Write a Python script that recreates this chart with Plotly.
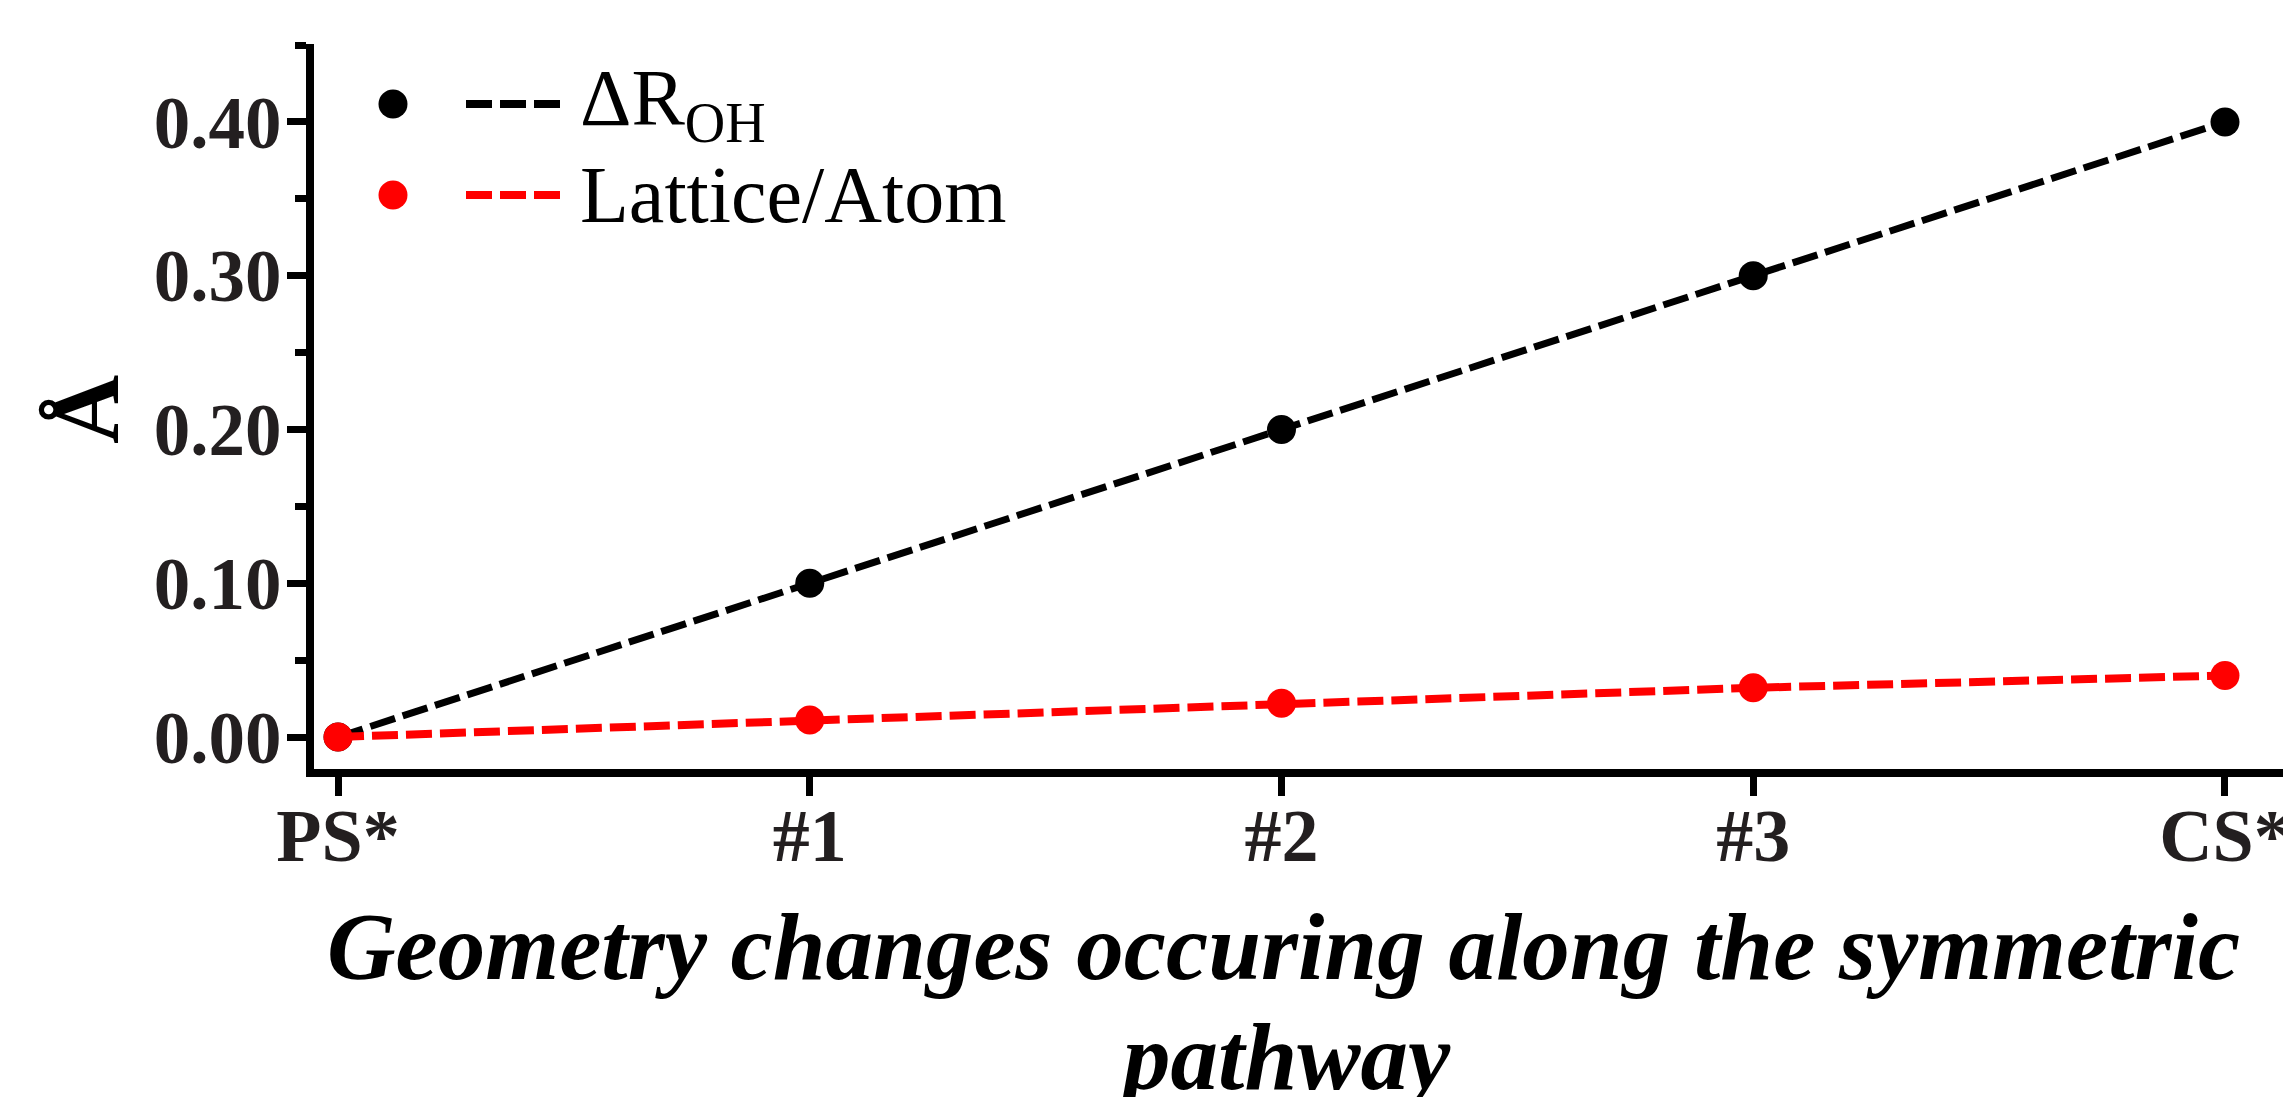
import plotly.graph_objects as go

categories = ["PS*", "#1", "#2", "#3", "CS*"]
x_pos = [0, 1, 2, 3, 4]
delta_roh = [0.0, 0.10, 0.20, 0.30, 0.40]
lattice_atom = [0.0, 0.011, 0.022, 0.032, 0.040]
y_ticks = [0.0, 0.1, 0.2, 0.3, 0.4]
y_tick_labels = ["0.00", "0.10", "0.20", "0.30", "0.40"]
series_names = ["ΔR<sub>OH</sub>", "Lattice/Atom"]
series_colors = ["#000000", "#ff0000"]

W, H = 2283, 1097
L, T, B, R = 314, 44, 328, 0
PW, PH = W - L - R, H - T - B

def px(xp):
    return (xp - L) / PW

def py(yp):
    return (H - B - yp) / PH

FONT = "Liberation Serif"
DASH = "26px,8px"
MSIZE = 29

fig = go.Figure()
fig.add_trace(go.Scatter(
    x=x_pos, y=delta_roh, mode="lines+markers", name=series_names[0],
    line=dict(color=series_colors[0], width=7, dash=DASH),
    marker=dict(color=series_colors[0], size=MSIZE), showlegend=False, cliponaxis=False))
fig.add_trace(go.Scatter(
    x=x_pos, y=lattice_atom, mode="lines+markers", name=series_names[1],
    line=dict(color=series_colors[1], width=8, dash=DASH),
    marker=dict(color=series_colors[1], size=MSIZE), showlegend=False, cliponaxis=False))

# custom legend (marker, dashed line, text)
legend_rows = [104, 195]
shapes = []
annotations = []
for i, yr in enumerate(legend_rows):
    r = MSIZE / 2
    shapes.append(dict(type="circle", xref="paper", yref="paper",
                       x0=px(393 - r), x1=px(393 + r), y0=py(yr + r), y1=py(yr - r),
                       fillcolor=series_colors[i], line=dict(width=0)))
    shapes.append(dict(type="line", xref="paper", yref="paper",
                       x0=px(466), x1=px(561), y0=py(yr), y1=py(yr),
                       line=dict(color=series_colors[i], width=8, dash=DASH)))
    annotations.append(dict(xref="paper", yref="paper", x=px(578), y=py(yr),
                            xanchor="left", yanchor="middle", showarrow=False,
                            text=series_names[i],
                            font=dict(family=FONT, size=80, color="#000000")))

# y axis title
annotations.append(dict(xref="paper", yref="paper", x=px(86), y=py(410),
                        xanchor="center", yanchor="middle", showarrow=False,
                        text="<b>Å</b>", textangle=-90,
                        font=dict(family=FONT, size=96, color="#000000")))
# x axis title (two lines)
annotations.append(dict(xref="paper", yref="paper", x=px(1283), y=py(1002),
                        xanchor="center", yanchor="bottom", showarrow=False,
                        text="<b><i>Geometry changes occuring along the symmetric</i></b>",
                        font=dict(family=FONT, size=95, color="#000000")))
annotations.append(dict(xref="paper", yref="paper", x=px(1283), y=py(1112),
                        xanchor="center", yanchor="bottom", showarrow=False,
                        text="<b><i>pathway</i></b>",
                        font=dict(family=FONT, size=95, color="#000000")))

fig.update_layout(
    width=W, height=H,
    margin=dict(l=L, r=R, t=T, b=B, pad=0, autoexpand=False),
    paper_bgcolor="white", plot_bgcolor="white",
    shapes=shapes, annotations=annotations,
    showlegend=False,
)
fig.update_xaxes(
    range=[-0.0509, 4.123], tickvals=x_pos, ticktext=categories,
    showline=True, linecolor="black", linewidth=8, mirror=False,
    ticks="outside", ticklen=19, tickwidth=7, tickcolor="black",
    showgrid=False, zeroline=False, ticklabeloverflow="allow",
    ticklabelstandoff=-24, automargin=False,
    tickfont=dict(family=FONT, size=74, color="#231f20", weight="bold"),
)
fig.update_yaxes(
    range=[-0.0208, 0.4507], tickvals=y_ticks, ticktext=y_tick_labels,
    showline=True, linecolor="black", linewidth=8, mirror=False,
    ticks="outside", ticklen=19, tickwidth=7, tickcolor="black",
    minor=dict(dtick=0.05, tick0=0, ticks="outside", ticklen=11, tickwidth=7, tickcolor="black", showgrid=False),
    showgrid=False, zeroline=False, ticklabelstandoff=-9, automargin=False,
    tickfont=dict(family=FONT, size=73, color="#231f20", weight="bold"),
)

fig.write_html("out.html")
